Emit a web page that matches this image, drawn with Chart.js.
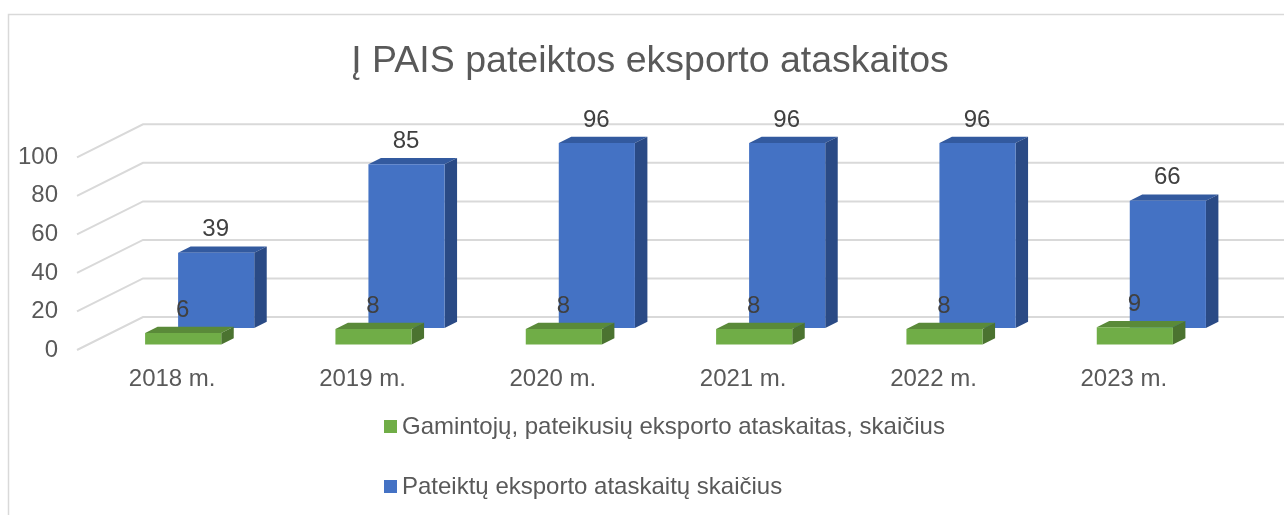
<!DOCTYPE html>
<html>
<head>
<meta charset="utf-8">
<style>
body { margin: 0; background: #fff; }
canvas { display: block; }
</style>
<script src="https://cdn.jsdelivr.net/npm/chart.js@4/dist/chart.umd.js"></script>
</head>
<body>
<canvas id="export-reports-chart" width="1284" height="515"></canvas>
<script>
const years = ['2018 m.', '2019 m.', '2020 m.', '2021 m.', '2022 m.', '2023 m.']
const producers = [6, 8, 8, 8, 8, 9]
const reports = [39, 85, 96, 96, 96, 66]
const producersLabel = 'Gamintojų, pateikusių eksporto ataskaitas, skaičius'
const reportsLabel = 'Pateiktų eksporto ataskaitų skaičius'
const chartTitle = 'Į PAIS pateiktos eksporto ataskaitos'

const fontFamily = "'Liberation Sans', Arial, sans-serif"
const gridColor = '#d9d9d9'
const wallDepth = 66
const barDepth = 12.5

// how far back each series stands on the floor of the fake 3d box
const seriesDepth = [11, 44]
const topColors = ['#5a8a39', '#335a9f']
const sideColors = ['#4b7330', '#2a4a85']

const drawFace = (ctx, color, points) => {
    ctx.fillStyle = color
    ctx.beginPath()
    points.forEach(([x, y], i) => i ? ctx.lineTo(x, y) : ctx.moveTo(x, y))
    ctx.closePath()
    ctx.fill()
}

const box3d = {
    id: 'box3d',
    beforeDraw(chart) {
        const { ctx, width } = chart
        ctx.save()
        ctx.strokeStyle = gridColor
        ctx.lineWidth = 1.5
        ctx.beginPath()
        ctx.moveTo(8.5, chart.height)
        ctx.lineTo(8.5, 14.5)
        ctx.lineTo(width, 14.5)
        ctx.stroke()
        ctx.restore()
    },
    beforeDatasetsDraw(chart) {
        const { ctx, chartArea, scales, width } = chart
        ctx.save()
        ctx.strokeStyle = gridColor
        ctx.lineWidth = 2
        for (const tick of scales.y.ticks) {
            const y = scales.y.getPixelForValue(tick.value)
            ctx.beginPath()
            ctx.moveTo(chartArea.left, y)
            ctx.lineTo(chartArea.left + wallDepth, y - wallDepth / 2)
            ctx.lineTo(width, y - wallDepth / 2)
            ctx.stroke()
        }
        ctx.restore()
    },
    beforeDatasetDraw(chart, args) {
        const { ctx } = chart
        const depth = seriesDepth[args.index]
        ctx.save()
        ctx.translate(depth, -depth / 2)
        for (const bar of args.meta.data) {
            const left = bar.x - bar.width / 2
            const right = bar.x + bar.width / 2
            const dx = barDepth
            const dy = -barDepth / 2
            drawFace(ctx, topColors[args.index], [[left, bar.y], [right, bar.y], [right + dx, bar.y + dy], [left + dx, bar.y + dy]])
            drawFace(ctx, sideColors[args.index], [[right, bar.y], [right + dx, bar.y + dy], [right + dx, bar.base + dy], [right, bar.base]])
        }
    },
    afterDatasetDraw(chart) {
        chart.ctx.restore()
    },
    afterDatasetsDraw(chart) {
        const { ctx } = chart
        ctx.save()
        ctx.font = `24px ${fontFamily}`
        ctx.fillStyle = '#404040'
        ctx.textAlign = 'center'
        ctx.textBaseline = 'middle'
        chart.data.datasets.forEach((dataset, i) => {
            const depth = seriesDepth[i]
            chart.getDatasetMeta(i).data.forEach((bar, j) => {
                ctx.fillText(dataset.data[j], bar.x + depth - 0.5, bar.y - depth / 2 - 23)
            })
        })
        ctx.restore()
    },
    afterDraw(chart) {
        const { ctx } = chart
        ctx.save()
        ctx.font = `24px ${fontFamily}`
        ctx.textBaseline = 'middle'
        chart.data.datasets.forEach((dataset, i) => {
            const y = 426.5 + i * 60
            ctx.fillStyle = dataset.backgroundColor
            ctx.fillRect(384, y - 6.5, 13, 13)
            ctx.fillStyle = '#595959'
            ctx.fillText(dataset.label, 402, y + 1)
        })
        ctx.restore()
    }
}

new Chart(document.querySelector('#export-reports-chart'), {
    type: 'bar',
    data: {
        labels: years,
        datasets: [
            { label: producersLabel, data: producers, backgroundColor: '#70ad47', clip: false },
            { label: reportsLabel, data: reports, backgroundColor: '#4472c4', clip: false }
        ]
    },
    options: {
        responsive: false,
        animation: false,
        grouped: false,
        categoryPercentage: 1,
        barPercentage: 0.4,
        layout: {
            padding: { left: 16, right: 0, top: 0, bottom: 0 }
        },
        plugins: {
            title: {
                display: true,
                text: chartTitle,
                color: '#595959',
                font: { family: fontFamily, size: 37.5, weight: 'normal' },
                padding: { top: 39, bottom: 73.3 }
            },
            legend: { display: false },
            tooltip: { enabled: false }
        },
        scales: {
            x: {
                grid: { display: false },
                border: { display: false },
                ticks: {
                    color: '#595959',
                    font: { family: fontFamily, size: 24 },
                    padding: 7,
                    maxRotation: 0
                },
                afterFit: scale => { scale.height = 165 }
            },
            y: {
                min: 0,
                max: 100,
                grid: { display: false, drawTicks: false },
                border: { display: false },
                ticks: {
                    stepSize: 20,
                    color: '#595959',
                    font: { family: fontFamily, size: 24 },
                    padding: 19
                },
                afterFit: scale => { scale.width = 61 }
            },
            // empty axis, only keeps the plot clear of the right edge
            spacer: {
                position: 'right',
                grid: { display: false },
                border: { display: false },
                ticks: { display: false },
                afterFit: scale => { scale.width = 65 }
            }
        }
    },
    plugins: [box3d]
})
</script>
</body>
</html>
